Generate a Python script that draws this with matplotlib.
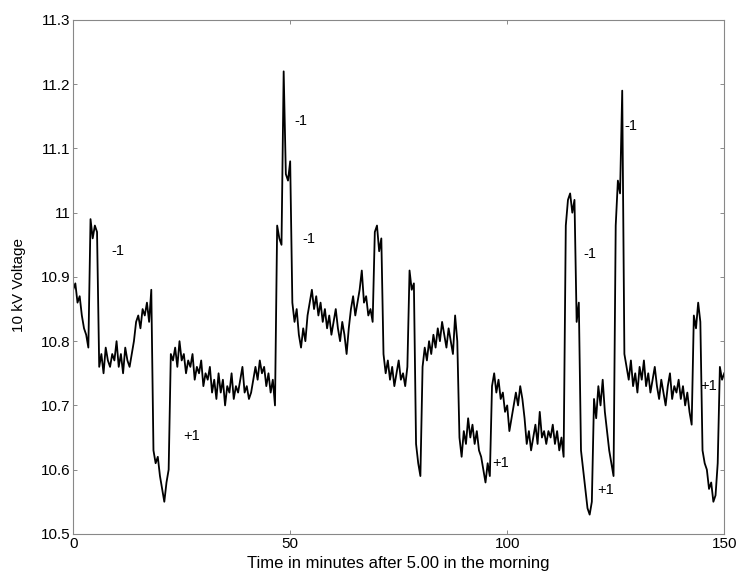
import numpy as np
import matplotlib.pyplot as plt
from matplotlib.ticker import FuncFormatter

plt.rcParams["font.family"] = ["Liberation Sans", "DejaVu Sans"]

# ---------------------------------------------------------
# data: 10 kV voltage, read every half minute
# ---------------------------------------------------------
minutes = np.arange(0, 150.5, 0.5)

voltage = [
    10.88, 10.89, 10.86, 10.87, 10.84, 10.82, 10.81, 10.79, 10.99, 10.96,
    10.98, 10.97, 10.76, 10.78, 10.75, 10.79, 10.77, 10.76, 10.78, 10.77,
    10.80, 10.76, 10.78, 10.75, 10.79, 10.77, 10.76, 10.78, 10.80, 10.83,
    10.84, 10.82, 10.85, 10.84, 10.86, 10.83, 10.88, 10.63, 10.61, 10.62,
    10.59, 10.57, 10.55, 10.58, 10.60, 10.78, 10.77, 10.79, 10.76, 10.80,
    10.77, 10.78, 10.75, 10.77, 10.76, 10.78, 10.74, 10.76, 10.75, 10.77,
    10.73, 10.75, 10.74, 10.76, 10.72, 10.74, 10.71, 10.75, 10.72, 10.74,
    10.70, 10.73, 10.72, 10.75, 10.71, 10.73, 10.72, 10.74, 10.76, 10.72,
    10.73, 10.71, 10.72, 10.74, 10.76, 10.74, 10.77, 10.75, 10.76, 10.73,
    10.75, 10.72, 10.74, 10.70, 10.98, 10.96, 10.95, 11.22, 11.06, 11.05,
    11.08, 10.86, 10.83, 10.85, 10.81, 10.79, 10.82, 10.80, 10.84, 10.86,
    10.88, 10.85, 10.87, 10.84, 10.86, 10.83, 10.85, 10.82, 10.84, 10.81,
    10.83, 10.85, 10.82, 10.80, 10.83, 10.81, 10.78, 10.82, 10.85, 10.87,
    10.84, 10.86, 10.88, 10.91, 10.86, 10.87, 10.84, 10.85, 10.83, 10.97,
    10.98, 10.94, 10.96, 10.78, 10.75, 10.77, 10.74, 10.76, 10.73, 10.75,
    10.77, 10.74, 10.75, 10.73, 10.76, 10.91, 10.88, 10.89, 10.64, 10.61,
    10.59, 10.76, 10.79, 10.77, 10.80, 10.78, 10.81, 10.79, 10.82, 10.80,
    10.83, 10.81, 10.79, 10.82, 10.80, 10.78, 10.84, 10.80, 10.65, 10.62,
    10.66, 10.64, 10.68, 10.65, 10.67, 10.64, 10.66, 10.63, 10.62, 10.60,
    10.58, 10.61, 10.59, 10.73, 10.75, 10.72, 10.74, 10.71, 10.72, 10.69,
    10.70, 10.66, 10.68, 10.70, 10.72, 10.70, 10.73, 10.71, 10.68, 10.64,
    10.66, 10.63, 10.65, 10.67, 10.64, 10.69, 10.65, 10.66, 10.64, 10.66,
    10.65, 10.67, 10.64, 10.66, 10.63, 10.65, 10.62, 10.98, 11.02, 11.03,
    11.00, 11.02, 10.83, 10.86, 10.63, 10.60, 10.57, 10.54, 10.53, 10.55,
    10.71, 10.68, 10.73, 10.70, 10.74, 10.69, 10.66, 10.63, 10.61, 10.59,
    10.98, 11.05, 11.03, 11.19, 10.78, 10.76, 10.74, 10.77, 10.73, 10.75,
    10.72, 10.76, 10.74, 10.77, 10.73, 10.75, 10.72, 10.74, 10.76, 10.73,
    10.71, 10.74, 10.72, 10.70, 10.73, 10.75, 10.71, 10.73, 10.72, 10.74,
    10.71, 10.73, 10.70, 10.72, 10.69, 10.67, 10.84, 10.82, 10.86, 10.83,
    10.63, 10.61, 10.60, 10.57, 10.58, 10.55, 10.56, 10.61, 10.76, 10.74,
    10.75,
]

# tap changer steps: label, time, voltage
step_labels = ["-1", "+1", "-1", "-1", "+1", "-1", "+1", "-1", "+1"]
step_t      = [8.8, 25.3, 50.9, 52.7, 96.5, 117.5, 120.7, 127.0, 144.4]
step_v      = [10.94, 10.653, 11.143, 10.959, 10.61, 10.936, 10.568, 11.135, 10.73]

x_ticks = [0, 50, 100, 150]
y_ticks = [10.5, 10.6, 10.7, 10.8, 10.9, 11.0, 11.1, 11.2, 11.3]

# ---------------------------------------------------------
# plot
# ---------------------------------------------------------
fig = plt.figure(figsize=(7.39, 5.71), dpi=100)
ax = fig.add_axes([0.099, 0.065, 0.881, 0.900])

ax.plot(minutes, voltage, color="black", linewidth=1.3)

for lab, t, v in zip(step_labels, step_t, step_v):
    ax.text(t, v, lab, fontsize=10.5, ha="left", va="center", color="black")

ax.set_xlim(0, 150)
ax.set_ylim(10.5, 11.3)
ax.set_xticks(x_ticks)
ax.set_yticks(y_ticks)
ax.yaxis.set_major_formatter(FuncFormatter(lambda v, p: f"{v:g}"))
ax.tick_params(direction="in", length=3, width=0.6, labelsize=11,
               top=True, right=True, color="#777777", pad=2)
for sp in ax.spines.values():
    sp.set_color("#888888")
    sp.set_linewidth(0.8)

ax.set_xlabel("Time in minutes after 5.00 in the morning", fontsize=12)
ax.set_ylabel("10 kV Voltage", fontsize=11)
ax.xaxis.set_label_coords(0.5, -0.043)
ax.yaxis.set_label_coords(-0.073, 0.485)

plt.savefig("out.png", dpi=100)
plt.close(fig)
